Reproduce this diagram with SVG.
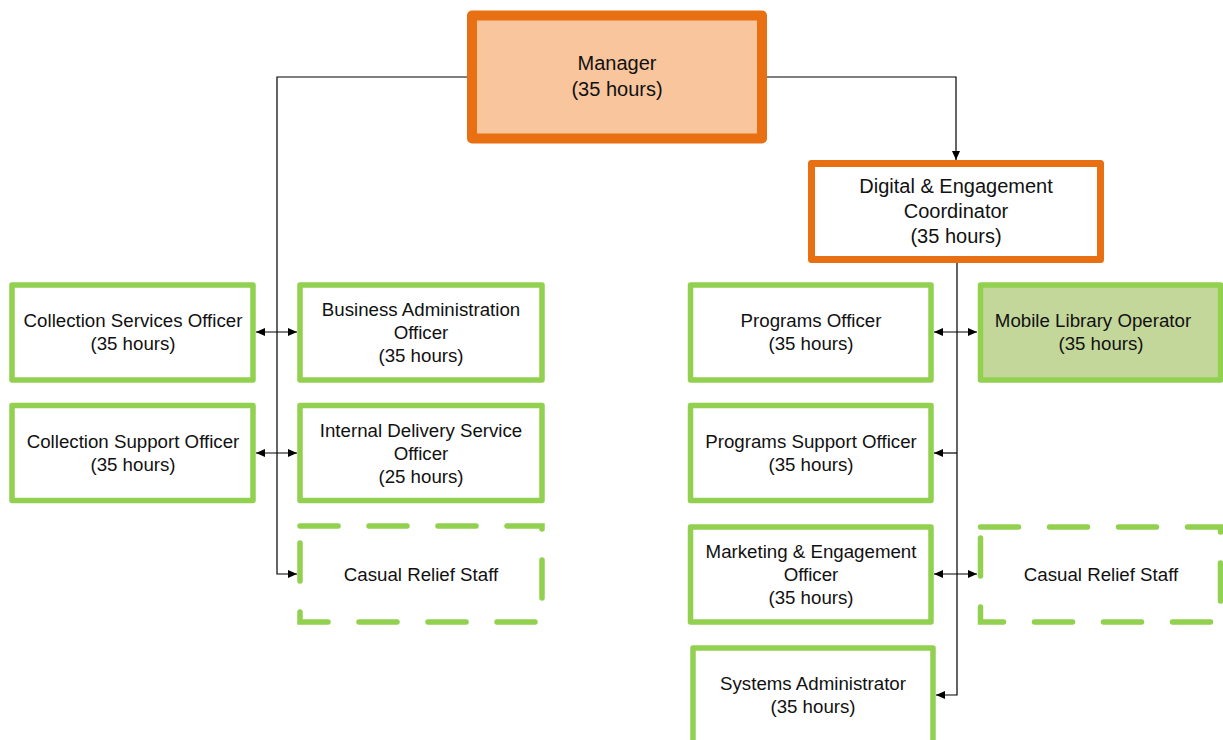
<svg xmlns="http://www.w3.org/2000/svg" width="1223" height="740" viewBox="0 0 1223 740">
<style>
  .orange { fill: #ffffff; stroke: #E97012; stroke-width: 7; stroke-linejoin: round; }
  .mgr { fill: #F8C59D; stroke: #E97012; stroke-width: 10; stroke-linejoin: round; }
  .green { fill: #ffffff; stroke: #92D050; stroke-width: 5.5; stroke-linejoin: round; }
  .greenfill { fill: #C4D79B; stroke: #92D050; stroke-width: 5.5; stroke-linejoin: round; }
  .dash { fill: #ffffff; stroke: #92D050; stroke-width: 5.5; stroke-dasharray: 38 31; stroke-linecap: round; }
  text { font-family: "Liberation Sans", Arial, sans-serif; fill: #111111; text-anchor: middle; }
  .t { font-size: 18.7px; }
  .tb { font-size: 20px; }
  .conn { fill: none; stroke: #000000; stroke-width: 1.2; }
</style>
<defs>
  <marker id="arr" markerWidth="9" markerHeight="8" refX="9" refY="4" orient="auto-start-reverse" markerUnits="userSpaceOnUse">
    <path d="M0,0 L9,4 L0,8 z" fill="#000000"/>
  </marker>
</defs>

<g id="connectors">
  <path class="conn" d="M467,77 H277 V574 H297" marker-end="url(#arr)"/>
  <path class="conn" d="M256,332 H297" marker-start="url(#arr)" marker-end="url(#arr)"/>
  <path class="conn" d="M256,453 H297" marker-start="url(#arr)" marker-end="url(#arr)"/>
  <path class="conn" d="M767,77 H956 V160" marker-end="url(#arr)"/>
  <path class="conn" d="M957,263 V695 H936" marker-end="url(#arr)"/>
  <path class="conn" d="M934,332 H977" marker-start="url(#arr)" marker-end="url(#arr)"/>
  <path class="conn" d="M957,453 H934" marker-end="url(#arr)"/>
  <path class="conn" d="M934,574 H977" marker-start="url(#arr)" marker-end="url(#arr)"/>
</g>

<g id="manager">
  <rect class="mgr" x="472" y="15.5" width="290" height="123"/>
  <text class="tb" x="617" y="70">Manager</text>
  <text class="tb" x="617" y="96">(35 hours)</text>
</g>

<g id="digital-coordinator">
  <rect class="orange" x="811.5" y="163.5" width="289" height="96"/>
  <text class="tb" x="956" y="193">Digital &amp; Engagement</text>
  <text class="tb" x="956" y="218">Coordinator</text>
  <text class="tb" x="956" y="243">(35 hours)</text>
</g>

<g id="collection-services">
  <rect class="green" x="12" y="285" width="241" height="95"/>
  <text class="t" x="133" y="327">Collection Services Officer</text>
  <text class="t" x="133" y="350">(35 hours)</text>
</g>

<g id="collection-support">
  <rect class="green" x="12" y="405.5" width="241" height="95"/>
  <text class="t" x="133" y="448">Collection Support Officer</text>
  <text class="t" x="133" y="471">(35 hours)</text>
</g>

<g id="business-admin">
  <rect class="green" x="300" y="285" width="242" height="95"/>
  <text class="t" x="421" y="316">Business Administration</text>
  <text class="t" x="421" y="339">Officer</text>
  <text class="t" x="421" y="362">(35 hours)</text>
</g>

<g id="internal-delivery">
  <rect class="green" x="300" y="405.5" width="242" height="95"/>
  <text class="t" x="421" y="437">Internal Delivery Service</text>
  <text class="t" x="421" y="460">Officer</text>
  <text class="t" x="421" y="483">(25 hours)</text>
</g>

<g id="casual-relief-left">
  <rect class="dash" x="300" y="526" width="242" height="96"/>
  <text class="t" x="421" y="581">Casual Relief Staff</text>
</g>

<g id="programs-officer">
  <rect class="green" x="690.5" y="285" width="240.5" height="95"/>
  <text class="t" x="811" y="327">Programs Officer</text>
  <text class="t" x="811" y="350">(35 hours)</text>
</g>

<g id="mobile-library">
  <rect class="greenfill" x="980.5" y="285" width="240" height="95"/>
  <text class="t" x="1093" y="327">Mobile Library Operator</text>
  <text class="t" x="1101" y="350">(35 hours)</text>
</g>

<g id="programs-support">
  <rect class="green" x="690.5" y="405.5" width="240.5" height="95"/>
  <text class="t" x="811" y="448">Programs Support Officer</text>
  <text class="t" x="811" y="471">(35 hours)</text>
</g>

<g id="marketing">
  <rect class="green" x="690.5" y="527" width="240.5" height="95"/>
  <text class="t" x="811" y="558">Marketing &amp; Engagement</text>
  <text class="t" x="811" y="581">Officer</text>
  <text class="t" x="811" y="604">(35 hours)</text>
</g>

<g id="casual-relief-right">
  <rect class="dash" x="980.5" y="527" width="240" height="95"/>
  <text class="t" x="1101" y="581">Casual Relief Staff</text>
</g>

<g id="systems-admin">
  <rect class="green" x="693" y="648" width="240" height="95"/>
  <text class="t" x="813" y="690">Systems Administrator</text>
  <text class="t" x="813" y="713">(35 hours)</text>
</g>
</svg>
